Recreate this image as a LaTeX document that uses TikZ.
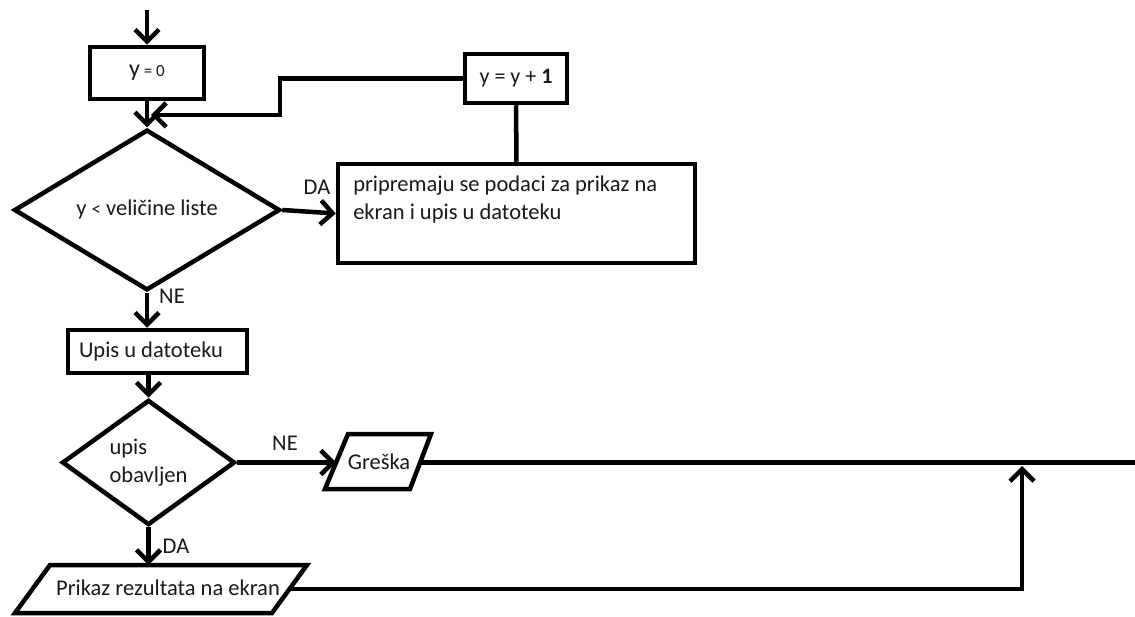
\documentclass[tikz,border=0pt]{standalone}
\usepackage{fontspec}
\setmainfont{Carlito}
\usetikzlibrary{arrows.meta,shapes.geometric}
\begin{document}
\begin{tikzpicture}[x=1pt,y=-1pt,line width=4.5pt,
  every node/.style={font=\fontsize{22.5}{28}\selectfont,inner sep=0pt,text=black!90},
  procbox/.style={draw,rectangle,inner sep=0pt},
  decision/.style={draw,diamond,inner sep=0pt},
  arr/.style={-{Straight Barb[length=12pt,width=24pt]}},
  lbl/.style={inner sep=0pt}]
\useasboundingbox (0,0) rectangle (1135,617);
% nodes
\node[procbox,minimum width=114pt,minimum height=52pt] (y0) at (147,73)
  {{\fontsize{24}{24}\selectfont y}\,{\fontsize{17}{18}\selectfont = 0}};
\node[procbox,minimum width=102pt,minimum height=49pt] (inc) at (516,78.5)
  {{\fontsize{22}{24}\selectfont y = y + \textbf{1}}};
\node[procbox,minimum width=357pt,minimum height=99pt] (big) at (516.5,213.5) {};
\node[anchor=north west,align=left] (bigtxt) at (351,174)
  {pripremaju se podaci za prikaz na\\ekran i upis u datoteku};
\node[decision,minimum width=266pt,minimum height=116pt] (d1) at (147,210)
  {y {\fontsize{19}{20}\selectfont <} veličine liste};
\node[procbox,minimum width=179pt,minimum height=43pt] (upis) at (157.5,351.5)
  {\makebox[157pt][l]{Upis u datoteku}};
\node[decision,minimum width=173pt,minimum height=110pt,align=left] (d2) at (148.5,462.5)
  {upis\\obavljen};
% Greska parallelogram
\draw (325,489) -- (410,489) -- (431,434) -- (348,434) -- cycle;
\node (greska) at (379,462) {Greška};
\coordinate (gin) at (336,462.5);
\coordinate (gout) at (420,462.5);
\coordinate (gend) at (1135,462.5);
% Prikaz parallelogram
\draw (15,613) -- (272,613) -- (307,565) -- (50,565) -- cycle;
\node (prikaz) at (168,588) {Prikaz rezultata na ekran};
\coordinate (ptop) at (148.5,565);
\coordinate (pout) at (289.5,589);
\coordinate (pturn) at (1022,589);
\coordinate (pup) at (1022,466);
% connectors
\coordinate (start) at (147,10);
\draw[arr] (start) -- (y0.north);
\draw[arr] (y0.south) -- (d1.north);
\coordinate (bend) at (280,78.5);
\coordinate (join) at (151,115);
\draw[arr] (inc.west) -- (bend) |- (join);
\draw (inc.south) -- (big.north);
\draw[arr] (d1.east) -- (big.west);
\node[lbl] (da1) at (317,187) {DA};
\draw[arr] (d1.south) -- (d1.south |- upis.north);
\node[lbl] (ne1) at (172,296) {NE};
\draw[arr] (d2.north |- upis.south) -- (d2.north);
\draw[arr] (d2.east) -- (gin);
\node[lbl] (ne2) at (285,443) {NE};
\draw[arr] (d2.south) -- (ptop);
\node[lbl] (da2) at (176,546) {DA};
\draw (gout) -- (gend);
\draw[arr] (pout) -- (pturn) -- (pup);
\end{tikzpicture}
\end{document}
